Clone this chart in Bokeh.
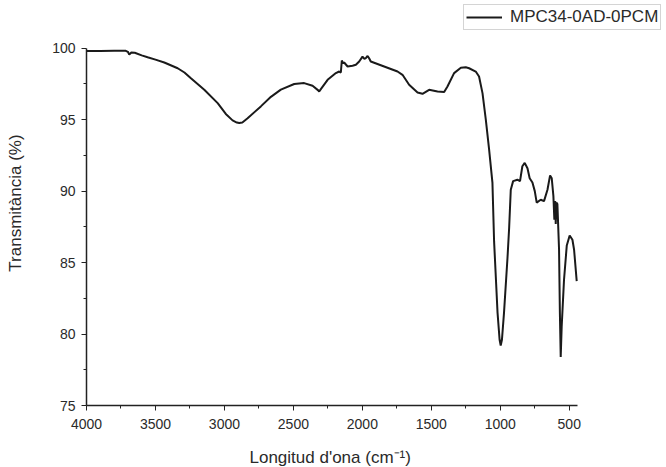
from bokeh.plotting import figure
from bokeh.models import Range1d, FixedTicker, Legend, LegendItem, Title
from bokeh.embed import file_html
from bokeh.resources import INLINE

# Spectrum data
wavenumber = [4000, 3900, 3800, 3715, 3700, 3690, 3675, 3650, 3600, 3557, 3500, 3436,
              3339, 3290, 3243, 3146, 3049, 2990, 2941, 2910, 2893, 2870, 2832, 2736,
              2663, 2591, 2494, 2422, 2361, 2320, 2313, 2301, 2252, 2192, 2168, 2156,
              2149, 2140, 2132, 2107, 2071, 2047, 2023, 1999, 1985, 1975, 1962, 1951,
              1939, 1842, 1745, 1709, 1661, 1600, 1564, 1516, 1455, 1407, 1383, 1335,
              1286, 1250, 1226, 1178, 1154, 1129, 1105, 1081, 1057, 1045, 1030, 1020,
              1005, 997, 988, 973, 948, 936, 924, 907, 876, 857, 840, 823, 803, 787,
              767, 750, 736, 707, 683, 658, 639, 627, 615, 608, 602, 598, 593, 586,
              574, 568, 562, 555, 538, 518, 497, 477, 465, 446]
transmittance = [99.8, 99.8, 99.82, 99.82, 99.75, 99.55, 99.7, 99.68, 99.5, 99.37, 99.2, 99.0,
                 98.6, 98.3, 97.9, 97.1, 96.16, 95.4, 94.95, 94.8, 94.77, 94.8, 95.1, 95.93,
                 96.6, 97.1, 97.5, 97.56, 97.37, 97.05, 96.97, 97.14, 97.79, 98.26, 98.37, 98.3,
                 99.14, 98.95, 99.0, 98.72, 98.77, 98.84, 99.07, 99.41, 99.25, 99.3, 99.46, 99.3,
                 99.07, 98.72, 98.37, 98.14, 97.44, 96.9, 96.81, 97.09, 96.97, 96.93, 97.32, 98.26,
                 98.63, 98.67, 98.6, 98.37, 98.02, 96.86, 95.0, 92.9, 90.6, 86.5, 83.5, 81.5,
                 79.6, 79.2, 79.6, 81.5, 85.3, 87.4, 90.1, 90.7, 90.8, 90.7, 91.74, 91.98, 91.6, 90.9,
                 90.6, 90.0, 89.2, 89.4, 89.3, 90.1, 91.1, 90.9, 89.65, 88.0, 89.3, 87.7, 89.2, 89.1,
                 85.9, 81.5, 78.4, 80.5, 83.8, 86.2, 86.9, 86.6, 85.9, 83.7]

x_ticks = [4000, 3500, 3000, 2500, 2000, 1500, 1000, 500]
x_minor_ticks = [3750, 3250, 2750, 2250, 1750, 1250, 750]
y_ticks = [75, 80, 85, 90, 95, 100]
y_minor_ticks = [77.5, 82.5, 87.5, 92.5, 97.5]
series_name = "MPC34-0AD-0PCM"
x_title = "Longitud d'ona (cm⁻¹)"
y_title = "Transmitància (%)"

FONT = "Liberation Sans"
TXT = "#2a2a2a"

# frame: left 86 .. right 666, top 0 .. bottom 407
# data region: 4000 -> 440 spans x 86..577, 75 -> 100 spans y 407..48
p = figure(width=666, height=467, output_backend="svg", toolbar_location=None,
           x_range=Range1d(4000, -205), y_range=Range1d(75, 103.34),
           min_border_left=86, min_border_right=0, min_border_top=0, min_border_bottom=60)
p.outline_line_color = None
p.xgrid.visible = False
p.ygrid.visible = False
p.background_fill_color = "white"
p.border_fill_color = "white"

r = p.line(wavenumber, transmittance, line_color="#1a1a1a", line_width=2)

p.xaxis.ticker = FixedTicker(ticks=x_ticks, minor_ticks=x_minor_ticks)
p.yaxis.ticker = FixedTicker(ticks=y_ticks, minor_ticks=y_minor_ticks)
p.xaxis.bounds = (440, 4000)
p.yaxis.bounds = (75, 100)

for ax in (p.xaxis[0], p.yaxis[0]):
    ax.axis_line_color = "#222222"
    ax.axis_line_width = 1.5
    ax.major_tick_line_color = "#222222"
    ax.minor_tick_line_color = "#222222"
    ax.major_tick_in = 0
    ax.major_tick_out = 5
    ax.minor_tick_in = 0
    ax.minor_tick_out = 3
    ax.major_label_text_font = FONT
    ax.major_label_text_font_size = "14px"
    ax.major_label_text_color = TXT
    ax.axis_label_text_font = FONT
    ax.axis_label_text_font_size = "17px"
    ax.axis_label_text_font_style = "normal"
    ax.axis_label_text_color = TXT

p.yaxis.axis_label = y_title
p.xaxis.major_label_standoff = 8
p.yaxis.major_label_standoff = 6
p.yaxis.axis_label_standoff = 24
# blank spacer label on the x axis, so the title below sits lower
p.xaxis.axis_label = " "
p.xaxis.axis_label_text_font_size = "1px"
p.xaxis.axis_label_standoff = 9

# x-axis title, centred under the data region (86..577) rather than the wider frame
xt = Title(text=x_title, align="left", offset=163, standoff=2, vertical_align="bottom",
           text_font=FONT, text_font_size="17px", text_font_style="normal",
           text_color=TXT)
p.add_layout(xt, "below")

legend = Legend(items=[LegendItem(label=series_name, renderers=[r])],
                location=(377, 375), orientation="vertical",
                border_line_color="#aaaaaa", border_line_width=1,
                background_fill_color="white", background_fill_alpha=1,
                padding=2, margin=0, spacing=0,
                glyph_width=36, glyph_height=20, label_height=20,
                label_standoff=8,
                label_text_font=FONT, label_text_font_size="17px",
                label_text_color=TXT)
p.add_layout(legend, "center")

open("out.html", "w").write(file_html(p, INLINE))
